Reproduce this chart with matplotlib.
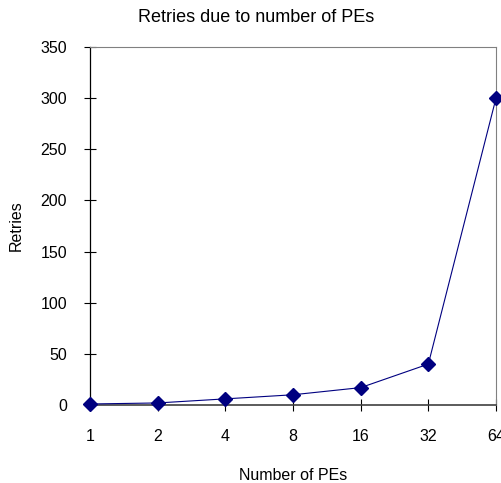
import matplotlib.pyplot as plt

pes = ['1', '2', '4', '8', '16', '32', '64']
retries = [1, 2, 6, 10, 17, 40, 300]

plt.rcParams['font.family'] = ['Liberation Sans', 'DejaVu Sans']

fig = plt.figure(figsize=(5.01, 4.83), dpi=100)
ax = fig.add_axes([90 / 501, 1 - 405 / 483, 406 / 501, 358 / 483])

x = list(range(len(pes)))
ax.plot(x, retries, color='#000080', lw=0.8, marker='D', ms=7,
        mfc='#000080', mec='#000080', clip_on=False, zorder=3)

ax.set_xlim(0, len(pes) - 1)
ax.set_ylim(0, 350)
ax.set_xticks(x)
ax.set_xticklabels(pes)
ax.set_yticks(range(0, 351, 50))

# Spines & Ticks
for side in ['top', 'right']:
    ax.spines[side].set_color('#808080')
    ax.spines[side].set_linewidth(0.8)
ax.spines['left'].set_color('black')
ax.spines['bottom'].set_color('#404040')
ax.spines['left'].set_linewidth(0.9)
ax.spines['bottom'].set_linewidth(1.2)
ax.tick_params(axis='both', which='major', direction='inout', length=9,
               width=0.8, labelsize=11.5, colors='black')
ax.tick_params(axis='x', pad=13)
ax.tick_params(axis='y', pad=12)

# Title sits centred on the figure rather than the axes
fig.text(256 / 501, 1 - 17 / 483, 'Retries due to number of PEs',
         fontsize=13, ha='center', va='center')
ax.set_xlabel('Number of PEs', fontsize=11.5, labelpad=17)
ax.set_ylabel('Retries', fontsize=11.5, labelpad=12)

fig.savefig('out.png', dpi=100)
